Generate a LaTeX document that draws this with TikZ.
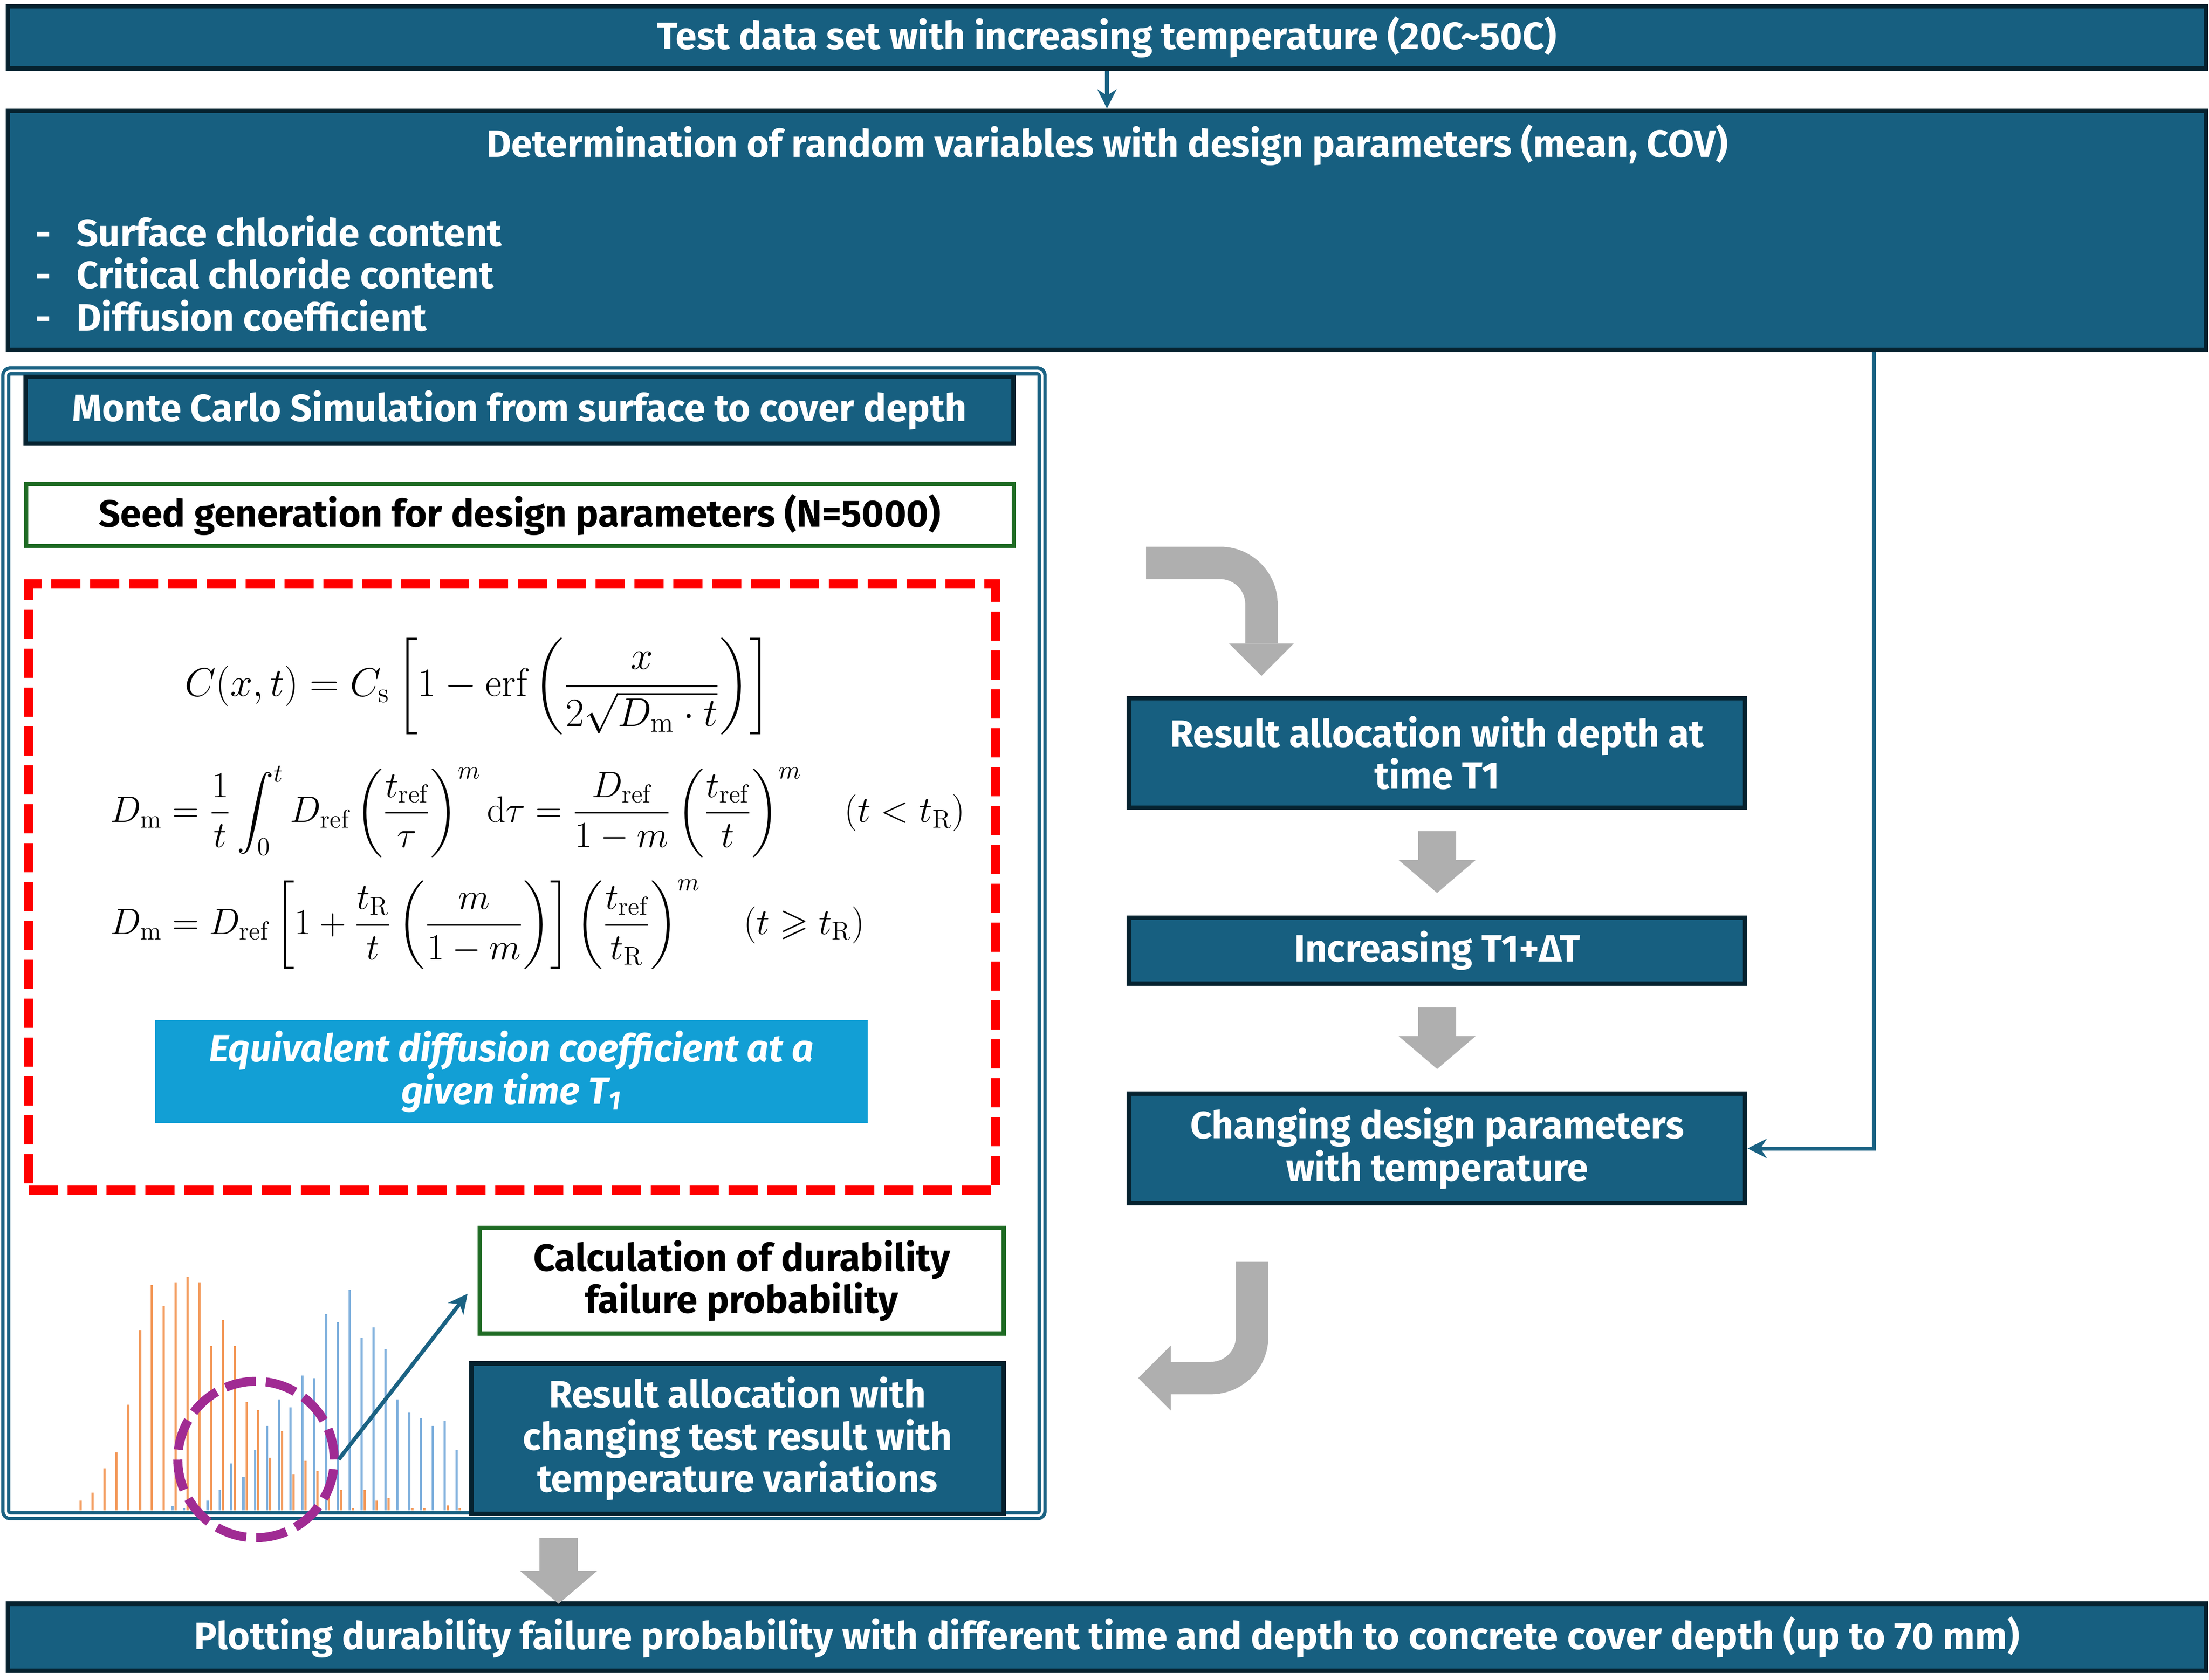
\RequirePackage{fix-cm}
\documentclass[tikz,border=0pt]{standalone}
\usepackage{fontspec}
\usepackage{amsmath}
\usepackage{amssymb}
\setsansfont{Fira Sans}
\usetikzlibrary{positioning,arrows.meta}

\definecolor{deepteal}{HTML}{175F80}
\definecolor{inkteal}{HTML}{06222F}
\definecolor{linkteal}{HTML}{1A6283}
\definecolor{leafgreen}{HTML}{1F6B24}
\definecolor{skyblue}{HTML}{129FD5}
\definecolor{ashgray}{HTML}{AFAFAF}
\definecolor{barorange}{HTML}{F39A5B}
\definecolor{barblue}{HTML}{7FB0DD}
\definecolor{ringpurple}{HTML}{A02B93}

\tikzstyle{darkbox}    = [draw=inkteal, line width=0.8mm, fill=deepteal, text=white, align=center]
\tikzstyle{greenbox}   = [draw=leafgreen, line width=0.75mm, fill=white, text=black, align=center]
\tikzstyle{link}       = [draw=linkteal, line width=0.7mm, -{Stealth[length=3.4mm,width=3.4mm]}]
\tikzstyle{blockarrow} = [draw=ashgray, line width=6.8mm, -{Triangle[length=5.85mm,width=13.7mm,line width=0pt]}]
\tikzstyle{bendarrow}  = [draw=ashgray, line width=5.75mm, rounded corners=7.3mm, -{Triangle[length=5.75mm,width=11.5mm,line width=0pt]}]

\begin{document}
\begin{tikzpicture}[x=0.25mm, y=-0.25mm,
			font=\sffamily\bfseries\fontsize{19.2pt}{21.3pt}\selectfont,
			formula/.style={anchor=west, inner sep=0pt, font=\fontsize{18.6pt}{22pt}\selectfont},
			bar/.style={line width=0.4mm},
		]
		\useasboundingbox (0,0) rectangle (1568,1192);

		\node[darkbox, minimum width=390mm, minimum height=11mm] (top) at (785.75,26.5) {Test data set with increasing temperature (20C\textasciitilde50C)};
		\node[darkbox, minimum width=390mm, minimum height=42.45mm] (det) at (785.75,163.5) {};
		\node[text=white, inner sep=0pt] (dettitle) at (786,103) {Determination of random variables with design parameters (mean, COV)};
		\node[text=white, inner sep=0pt, align=left, anchor=west] (detlist) at (25,194) {\makebox[7.3mm][l]{-}Surface chloride content\\\makebox[7.3mm][l]{-}Critical chloride content\\\makebox[7.3mm][l]{-}Diffusion coefficient};
		\draw[link] (top) -- (det);

		\foreach \x/\h in {57.1/1065.0, 65.8/1059.2, 74.3/1042.1, 82.7/1030.7, 91.0/997.0, 99.4/944.0, 107.7/911.8, 116.1/926.9, 124.6/909.9, 133.0/906.3, 141.5/909.9, 149.7/955.2, 158.2/936.6, 166.6/955.2, 175.1/995.1, 183.3/1000.6, 191.8/1034.5, 200.2/1015.7, 208.5/1046.0, 216.9/1036.6, 225.4/1044.0, 233.6/1053.5, 242.1/1057.4, 250.5/1070.2, 259.0/1057.4, 267.4/1065.0, 275.9/1063.1, 292.6/1070.2, 301.3/1070.2, 317.7/1068.5, 326.4/1070.2}
			\draw[bar, barorange] (\x,1072) -- (\x,\h);
		\foreach \x/\h in {122.3/1068.7, 130.7/1070.2, 147.4/1065.0, 155.9/1057.4, 164.3/1038.6, 172.8/1047.9, 181.0/1028.9, 189.5/1012.0, 197.9/993.2, 206.2/998.7, 214.6/976.1, 223.1/978.0, 231.5/932.6, 239.8/938.4, 248.2/915.5, 256.7/949.7, 265.1/942.1, 273.6/957.4, 282.1/993.2, 290.5/1002.5, 298.7/1006.2, 307.2/1012.0, 315.7/1008.1, 324.1/1028.9}
			\draw[bar, barblue] (\x,1072) -- (\x,\h);

		\node[draw=linkteal, double=white, line width=0.6mm, double distance=0.43mm, rounded corners=0.8mm, minimum width=183.9mm, minimum height=203.1mm] (mcframe) at (371.9,669.45) {};
		\node[darkbox, minimum width=175.3mm, minimum height=11.8mm] (mc) at (368.75,291.2) {Monte Carlo Simulation from surface to cover depth};
		\node[greenbox, minimum width=175.25mm, minimum height=11mm] (seed) at (369,365.5) {Seed generation for design parameters (N=5000)};
		\node[draw=red, line width=1.65mm, dash pattern=on 5.2mm off 1.7mm, minimum width=171.6mm, minimum height=107.6mm] (model) at (363.5,629.5) {};

		\node[formula, font=\fontsize{20.3pt}{24pt}\selectfont] (eqC) at (131,487) {$\displaystyle C(x,t)=C_{\mathrm{s}}\left[1-\mathrm{erf}\left(\frac{x}{2\sqrt{D_{\mathrm{m}}\cdot t}}\right)\right]$};
		\node[formula] (eqDa) at (78,576) {$\displaystyle D_{\mathrm{m}}=\frac{1}{t}\int_{0}^{t}D_{\mathrm{ref}}\left(\frac{t_{\mathrm{ref}}}{\tau}\right)^{m}\mathrm{d}\tau=\frac{D_{\mathrm{ref}}}{1-m}\left(\frac{t_{\mathrm{ref}}}{t}\right)^{m}\quad(t<t_{\mathrm{R}})$};
		\node[formula] (eqDb) at (78,656) {$\displaystyle D_{\mathrm{m}}=D_{\mathrm{ref}}\left[1+\frac{t_{\mathrm{R}}}{t}\left(\frac{m}{1-m}\right)\right]\left(\frac{t_{\mathrm{ref}}}{t_{\mathrm{R}}}\right)^{m}\quad(t\geqslant t_{\mathrm{R}})$};

		\node[fill=skyblue, text=white, align=center, minimum width=126.5mm, minimum height=18.25mm, font=\sffamily\bfseries\itshape\fontsize{19.2pt}{21.3pt}\selectfont] (equiv) at (363,760.5) {Equivalent diffusion coefficient at a\\given time T\textsubscript{1}};

		\node[greenbox, minimum width=93mm, minimum height=18.75mm] (calc) at (526.5,909) {Calculation of durability\\failure probability};
		\node[darkbox, minimum width=94.45mm, minimum height=26.7mm] (spread) at (523.5,1021) {Result allocation with\\changing test result with\\temperature variations};

		\node[circle, draw=ringpurple, line width=1.6mm, dash pattern=on 5.5mm off 1.77mm, minimum size=27.75mm, inner sep=0pt] (spot) at (181.7,1035.8) {};
		\draw[link, shorten >=2.9mm] (spot.east) -- (calc.west);

		\node[darkbox, minimum width=109.35mm, minimum height=19.4mm] (depth) at (1020.1,534.35) {Result allocation with depth at\\time T1};
		\node[darkbox, minimum width=109.35mm, minimum height=11.7mm] (tinc) at (1020.1,674.7) {Increasing T1+ΔT};
		\node[darkbox, minimum width=109.35mm, minimum height=19.4mm] (param) at (1020.1,815.05) {Changing design parameters\\with temperature};

		\draw[link] ([xshift=136.06mm]det.south) |- (param.east);
		\draw[blockarrow, shorten <=3.8mm, shorten >=4mm] (depth) -- (tinc);
		\draw[blockarrow, shorten <=3.8mm, shorten >=4mm] (tinc) -- (param);
		\draw[bendarrow] (813.5,399.5) -| (895.4,479.7);
		\draw[bendarrow] (888.75,895.5) |- (808,978);

		\node[darkbox, minimum width=390mm, minimum height=11.9mm] (final) at (785.75,1162) {Plotting durability failure probability with different time and depth to concrete cover depth (up to 70 mm)};
		\coordinate (mcfoot) at ([xshift=6.15mm]mcframe.south);
		\draw[blockarrow, shorten <=3.6mm, shorten >=-0.4mm] (mcfoot) -- (mcfoot |- final.north);
	\end{tikzpicture}
\end{document}
